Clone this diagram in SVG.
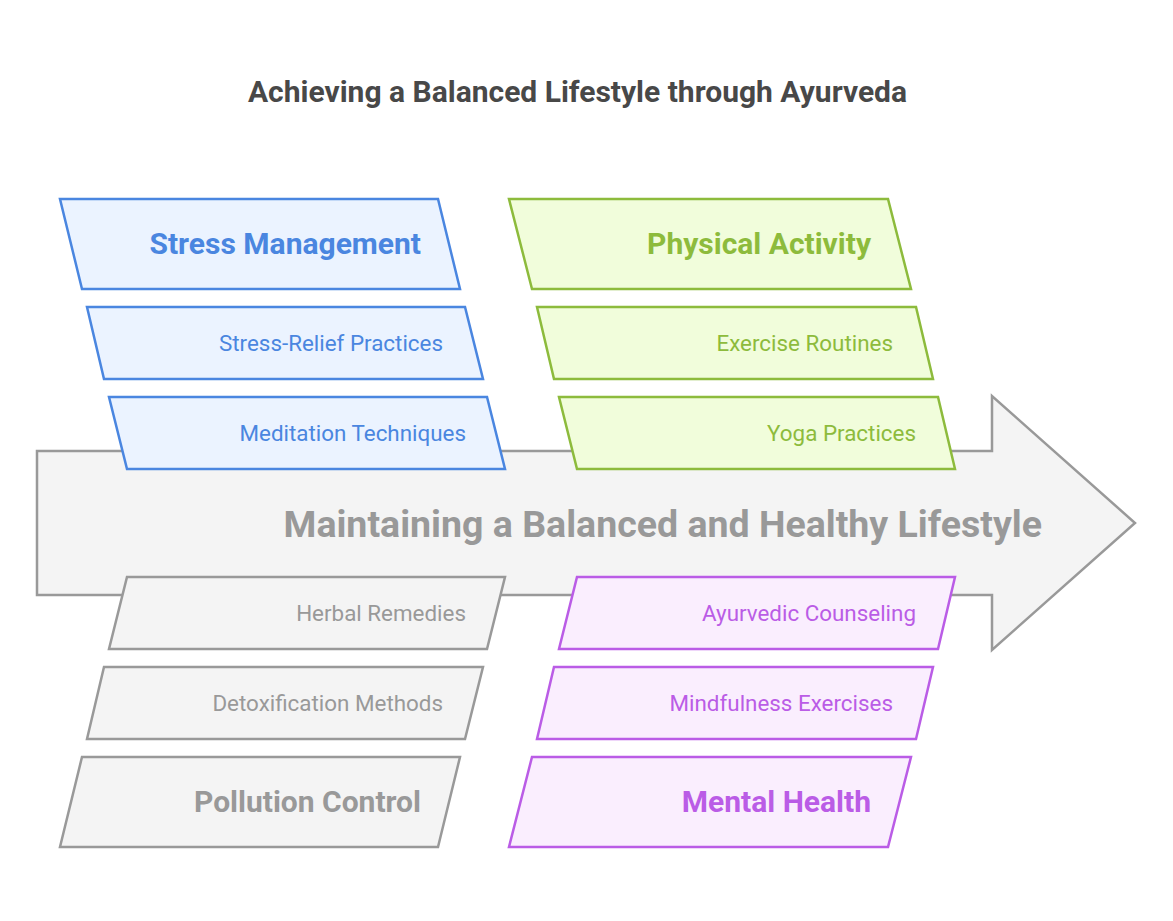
<svg xmlns="http://www.w3.org/2000/svg" width="1173" height="921" viewBox="0 0 1173 921">
<style>
text{font-family:Roboto,"Liberation Sans",sans-serif}
.title{font-size:30px;font-weight:bold;fill:#484848;text-anchor:middle}
.main{font-size:37.5px;font-weight:bold;fill:#999999;text-anchor:end}
.h{font-size:30px;font-weight:bold;text-anchor:end}
.s{font-size:22.4px;text-anchor:end}
.blue polygon{fill:#EBF3FF;stroke:#4A86E0;stroke-width:2.5}
.blue text{fill:#4A86E0}
.green polygon{fill:#F1FDDB;stroke:#8DBB3C;stroke-width:2.5}
.green text{fill:#8DBB3C}
.purple polygon{fill:#FAEEFE;stroke:#BA5CE6;stroke-width:2.5}
.purple text{fill:#BA5CE6}
.gray polygon{fill:#F4F4F4;stroke:#999999;stroke-width:2.5}
.gray text{fill:#999999}
</style>
<rect width="1173" height="921" fill="#ffffff"/>
<text class="title" x="577.5" y="102">Achieving a Balanced Lifestyle through Ayurveda</text>
<g id="arrow">
<polygon points="37,451 992,451 992,396 1135,523 992,650 992,595 37,595" fill="#F4F4F4" stroke="#999999" stroke-width="2.5" stroke-linejoin="miter"/>
<text class="main" x="1042" y="537">Maintaining a Balanced and Healthy Lifestyle</text>
</g>
<g id="connectors"></g>
<g id="stress-management" class="blue">
<polygon points="60,199 438,199 460,289 82,289"/>
<text class="h" x="421" y="254">Stress Management</text>
</g>
<g id="stress-relief" class="blue">
<polygon points="87,307 465,307 483,379 104,379"/>
<text class="s" x="443" y="351">Stress-Relief Practices</text>
</g>
<g id="meditation" class="blue">
<polygon points="109,397 487,397 505,469 127,469"/>
<text class="s" x="466" y="441">Meditation Techniques</text>
</g>
<g id="physical-activity" class="green">
<polygon points="509,199 888,199 911,289 532,289"/>
<text class="h" x="871" y="254">Physical Activity</text>
</g>
<g id="exercise" class="green">
<polygon points="537,307 916,307 933,379 554,379"/>
<text class="s" x="893" y="351">Exercise Routines</text>
</g>
<g id="yoga" class="green">
<polygon points="559,397 938,397 955,469 577,469"/>
<text class="s" x="916" y="441">Yoga Practices</text>
</g>
<g id="herbal" class="gray">
<polygon points="127,577 505,577 487,649 109,649"/>
<text class="s" x="466" y="621">Herbal Remedies</text>
</g>
<g id="detox" class="gray">
<polygon points="104,667 483,667 465,739 87,739"/>
<text class="s" x="443" y="711">Detoxification Methods</text>
</g>
<g id="pollution" class="gray">
<polygon points="82,757 460,757 438,847 60,847"/>
<text class="h" x="421" y="812">Pollution Control</text>
</g>
<g id="ayurvedic" class="purple">
<polygon points="577,577 955,577 938,649 559,649"/>
<text class="s" x="916" y="621">Ayurvedic Counseling</text>
</g>
<g id="mindfulness" class="purple">
<polygon points="554,667 933,667 916,739 537,739"/>
<text class="s" x="893" y="711">Mindfulness Exercises</text>
</g>
<g id="mental-health" class="purple">
<polygon points="532,757 911,757 888,847 509,847"/>
<text class="h" x="871" y="812">Mental Health</text>
</g>
</svg>
